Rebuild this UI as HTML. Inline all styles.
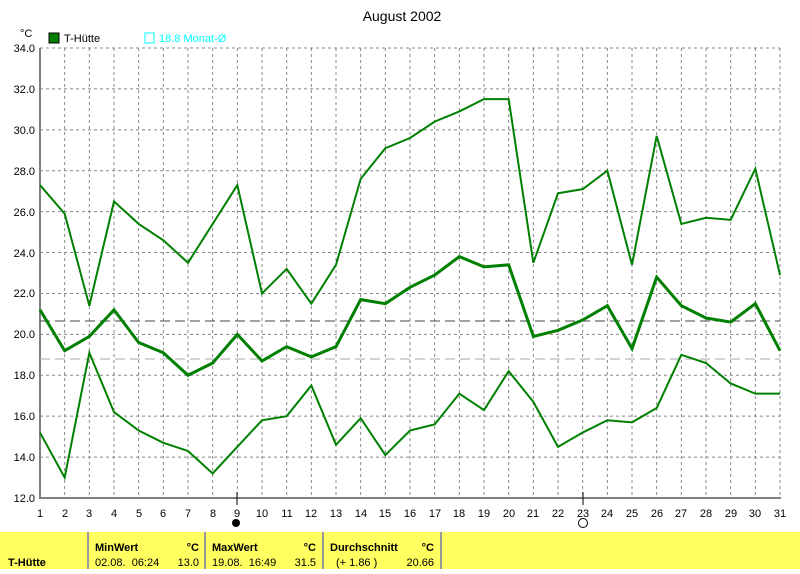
<!DOCTYPE html><html><head><style>body{margin:0;background:#fff;width:800px;height:569px;overflow:hidden;font-family:"Liberation Sans",sans-serif}</style></head><body>
<svg width="800" height="569" xmlns="http://www.w3.org/2000/svg" font-family="Liberation Sans, sans-serif">
<rect width="800" height="569" fill="#fff"/>
<text x="402" y="21" font-size="14" text-anchor="middle">August 2002</text>
<text x="20" y="37" font-size="11">°C</text>
<rect x="49" y="33" width="10" height="10" fill="#008000" stroke="#000"/>
<text x="64" y="42" font-size="11">T-Hütte</text>
<rect x="145" y="33" width="9" height="10" fill="none" stroke="#00ffff"/>
<text x="159" y="42" font-size="11" fill="#00ffff">18.8 Monat-Ø</text>
<g id="grid" stroke="#888" stroke-dasharray="3,3" stroke-width="1"></g>
<line x1="40" y1="48" x2="40" y2="499" stroke="#808080" stroke-width="2"/>
<line x1="39" y1="498" x2="781" y2="498" stroke="#808080" stroke-width="2"/>
<line x1="237" y1="492" x2="237" y2="505" stroke="#000"/>
<line x1="583" y1="492" x2="583" y2="505" stroke="#000"/>
<line x1="40" y1="321" x2="780" y2="321" stroke="#444" stroke-dasharray="10,5"/>
<line x1="40" y1="359" x2="780" y2="359" stroke="#aaa" stroke-dasharray="10,5"/>
<g id="series" fill="none" stroke="#008000"></g>
<g font-size="11" text-anchor="end">
<text x="35" y="52">34.0</text><text x="35" y="93">32.0</text><text x="35" y="134">30.0</text><text x="35" y="175">28.0</text><text x="35" y="216">26.0</text><text x="35" y="257">24.0</text><text x="35" y="297">22.0</text><text x="35" y="338">20.0</text><text x="35" y="379">18.0</text><text x="35" y="420">16.0</text><text x="35" y="461">14.0</text><text x="35" y="502">12.0</text>
</g>
<g font-size="11" text-anchor="middle">
<text x="40" y="517">1</text><text x="65" y="517">2</text><text x="89" y="517">3</text><text x="114" y="517">4</text><text x="139" y="517">5</text><text x="163" y="517">6</text><text x="188" y="517">7</text><text x="213" y="517">8</text><text x="237" y="517">9</text><text x="262" y="517">10</text><text x="287" y="517">11</text><text x="311" y="517">12</text><text x="336" y="517">13</text><text x="361" y="517">14</text><text x="385" y="517">15</text><text x="410" y="517">16</text><text x="435" y="517">17</text><text x="459" y="517">18</text><text x="484" y="517">19</text><text x="509" y="517">20</text><text x="533" y="517">21</text><text x="558" y="517">22</text><text x="583" y="517">23</text><text x="607" y="517">24</text><text x="632" y="517">25</text><text x="657" y="517">26</text><text x="681" y="517">27</text><text x="706" y="517">28</text><text x="731" y="517">29</text><text x="755" y="517">30</text><text x="780" y="517">31</text>
</g>
<circle cx="236" cy="523" r="4" fill="#000"/>
<circle cx="583" cy="523" r="4.5" fill="#fff" stroke="#000"/>
<rect x="0" y="532" width="800" height="37" fill="#ffff60"/>
<g stroke="#999" stroke-width="2"><line x1="88" y1="532" x2="88" y2="569"/><line x1="205" y1="532" x2="205" y2="569"/><line x1="323" y1="532" x2="323" y2="569"/><line x1="441" y1="532" x2="441" y2="569"/></g>
<g font-size="11">
<text x="8" y="566" font-weight="bold">T-Hütte</text>
<text x="95" y="551" font-weight="bold">MinWert</text><text x="199" y="551" font-weight="bold" text-anchor="end">°C</text>
<text x="95" y="566" xml:space="preserve">02.08.  06:24</text><text x="199" y="566" text-anchor="end">13.0</text>
<text x="212" y="551" font-weight="bold">MaxWert</text><text x="316" y="551" font-weight="bold" text-anchor="end">°C</text>
<text x="212" y="566" xml:space="preserve">19.08.  16:49</text><text x="316" y="566" text-anchor="end">31.5</text>
<text x="330" y="551" font-weight="bold">Durchschnitt</text><text x="434" y="551" font-weight="bold" text-anchor="end">°C</text>
<text x="336" y="566">(+ 1.86 )</text><text x="434" y="566" text-anchor="end">20.66</text>
</g>
</svg>
<script>
var ns="http://www.w3.org/2000/svg",g=document.getElementById('grid'),s=document.getElementById('series');
function X(d){return 40+(d-1)*24.667}function Y(v){return 498-(v-12)*20.4545}
for(var d=2;d<=31;d++){var l=document.createElementNS(ns,'line');l.setAttribute('x1',X(d));l.setAttribute('x2',X(d));l.setAttribute('y1',48);l.setAttribute('y2',498);g.appendChild(l)}
for(var v=14;v<=34;v+=2){var l=document.createElementNS(ns,'line');l.setAttribute('x1',40);l.setAttribute('x2',780);l.setAttribute('y1',Y(v));l.setAttribute('y2',Y(v));g.appendChild(l)}
var mx=[27.3,25.9,21.4,26.5,25.4,24.6,23.5,25.4,27.3,22.0,23.2,21.5,23.4,27.6,29.1,29.6,30.4,30.9,31.5,31.5,23.5,26.9,27.1,28.0,23.4,29.7,25.4,25.7,25.6,28.1,22.9];
var mn=[21.2,19.2,19.9,21.2,19.6,19.1,18.0,18.6,20.0,18.7,19.4,18.9,19.4,21.7,21.5,22.3,22.9,23.8,23.3,23.4,19.9,20.2,20.7,21.4,19.3,22.8,21.4,20.8,20.6,21.5,19.2];
var mi=[15.2,13.0,19.1,16.2,15.3,14.7,14.3,13.2,14.5,15.8,16.0,17.5,14.6,15.9,14.1,15.3,15.6,17.1,16.3,18.2,16.7,14.5,15.2,15.8,15.7,16.4,19.0,18.6,17.6,17.1,17.1];
[[mx,2],[mn,3],[mi,2]].forEach(function(a){var p=document.createElementNS(ns,'polyline');p.setAttribute('points',a[0].map(function(v,i){return X(i+1)+','+Y(v)}).join(' '));p.setAttribute('stroke-width',a[1]);s.appendChild(p)});
</script>
</body></html>
